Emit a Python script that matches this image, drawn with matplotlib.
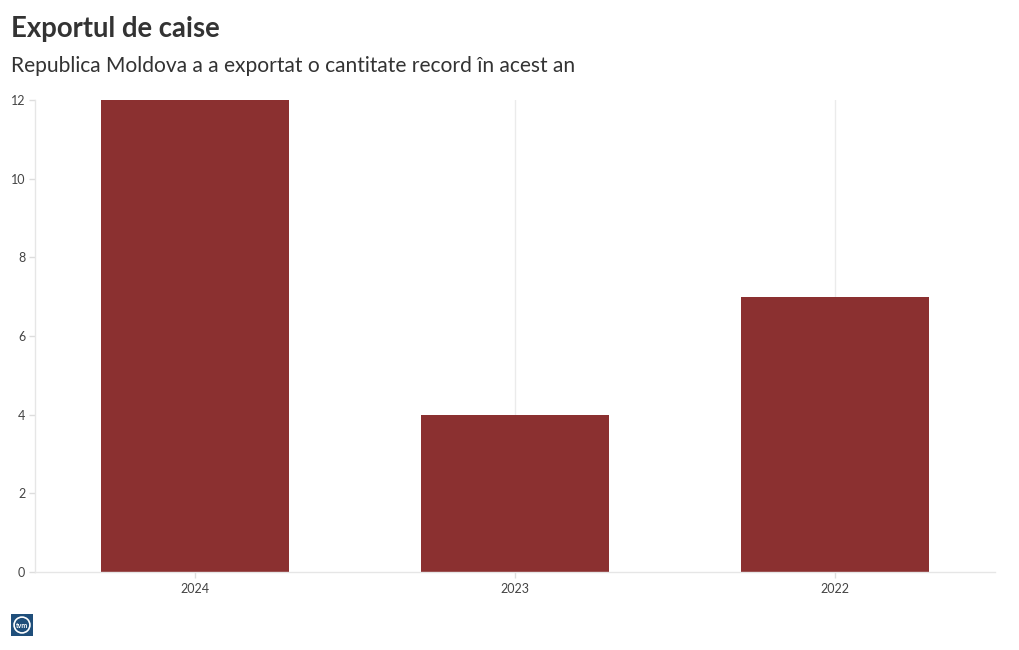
import matplotlib
matplotlib.use("Agg")
import matplotlib.pyplot as plt
from matplotlib.patches import Rectangle, Circle

categories = ["2024", "2023", "2022"]
values = [12, 4, 7]
yticks = [0, 2, 4, 6, 8, 10, 12]

title = "Exportul de caise"
subtitle = "Republica Moldova a a exportat o cantitate record în acest an"

plt.rcParams['font.family'] = ['Lato', 'DejaVu Sans']

W, H = 1020, 650
fig = plt.figure(figsize=(W / 100, H / 100), dpi=100)
fig.patch.set_facecolor("white")

ax = fig.add_axes([35 / W, 1 - 572 / H, (995 - 35) / W, (572 - 100) / H])
x = list(range(len(categories)))
ax.bar(x, values, width=0.5875, color="#8b3030", zorder=2)
ax.set_xlim(-0.5, len(categories) - 0.5)
ax.set_ylim(0, 12)
ax.set_xticks(x)
ax.set_xticklabels(categories)
ax.set_yticks(yticks)
ax.set_yticklabels([str(t) for t in yticks])
ax.grid(axis="x", color="#ebebeb", linewidth=1, zorder=0)
ax.grid(axis="y", visible=False)
for s in ["top", "right"]:
    ax.spines[s].set_visible(False)
for s in ["left", "bottom"]:
    ax.spines[s].set_color("#e6e6e6")
    ax.spines[s].set_linewidth(1)
ax.tick_params(axis="both", colors="#dddddd", labelcolor="#444444", labelsize=9, length=4, width=1)
ax.tick_params(axis="x", pad=4)
ax.tick_params(axis="y", pad=3)
ax.set_facecolor("white")

fig.text(11 / W, 1 - 29 / H, title, fontsize=19.8, fontweight="bold", color="#333333", va="center", ha="left")
fig.text(11 / W, 1 - 66 / H, subtitle, fontsize=15.1, color="#333333", va="center", ha="left")

# logo
lax = fig.add_axes([11 / W, 1 - 636 / H, 22 / W, 22 / H])
lax.set_xlim(0, 1)
lax.set_ylim(0, 1)
lax.axis("off")
lax.add_patch(Rectangle((0, 0), 1, 1, color="#1f4e7a"))
lax.add_patch(Circle((0.5, 0.5), 0.36, fill=False, edgecolor="white", linewidth=1.2))
lax.text(0.5, 0.5, "tvm", color="white", fontsize=5, fontweight="bold", ha="center", va="center")

fig.savefig("out.png", dpi=100, facecolor="white")
